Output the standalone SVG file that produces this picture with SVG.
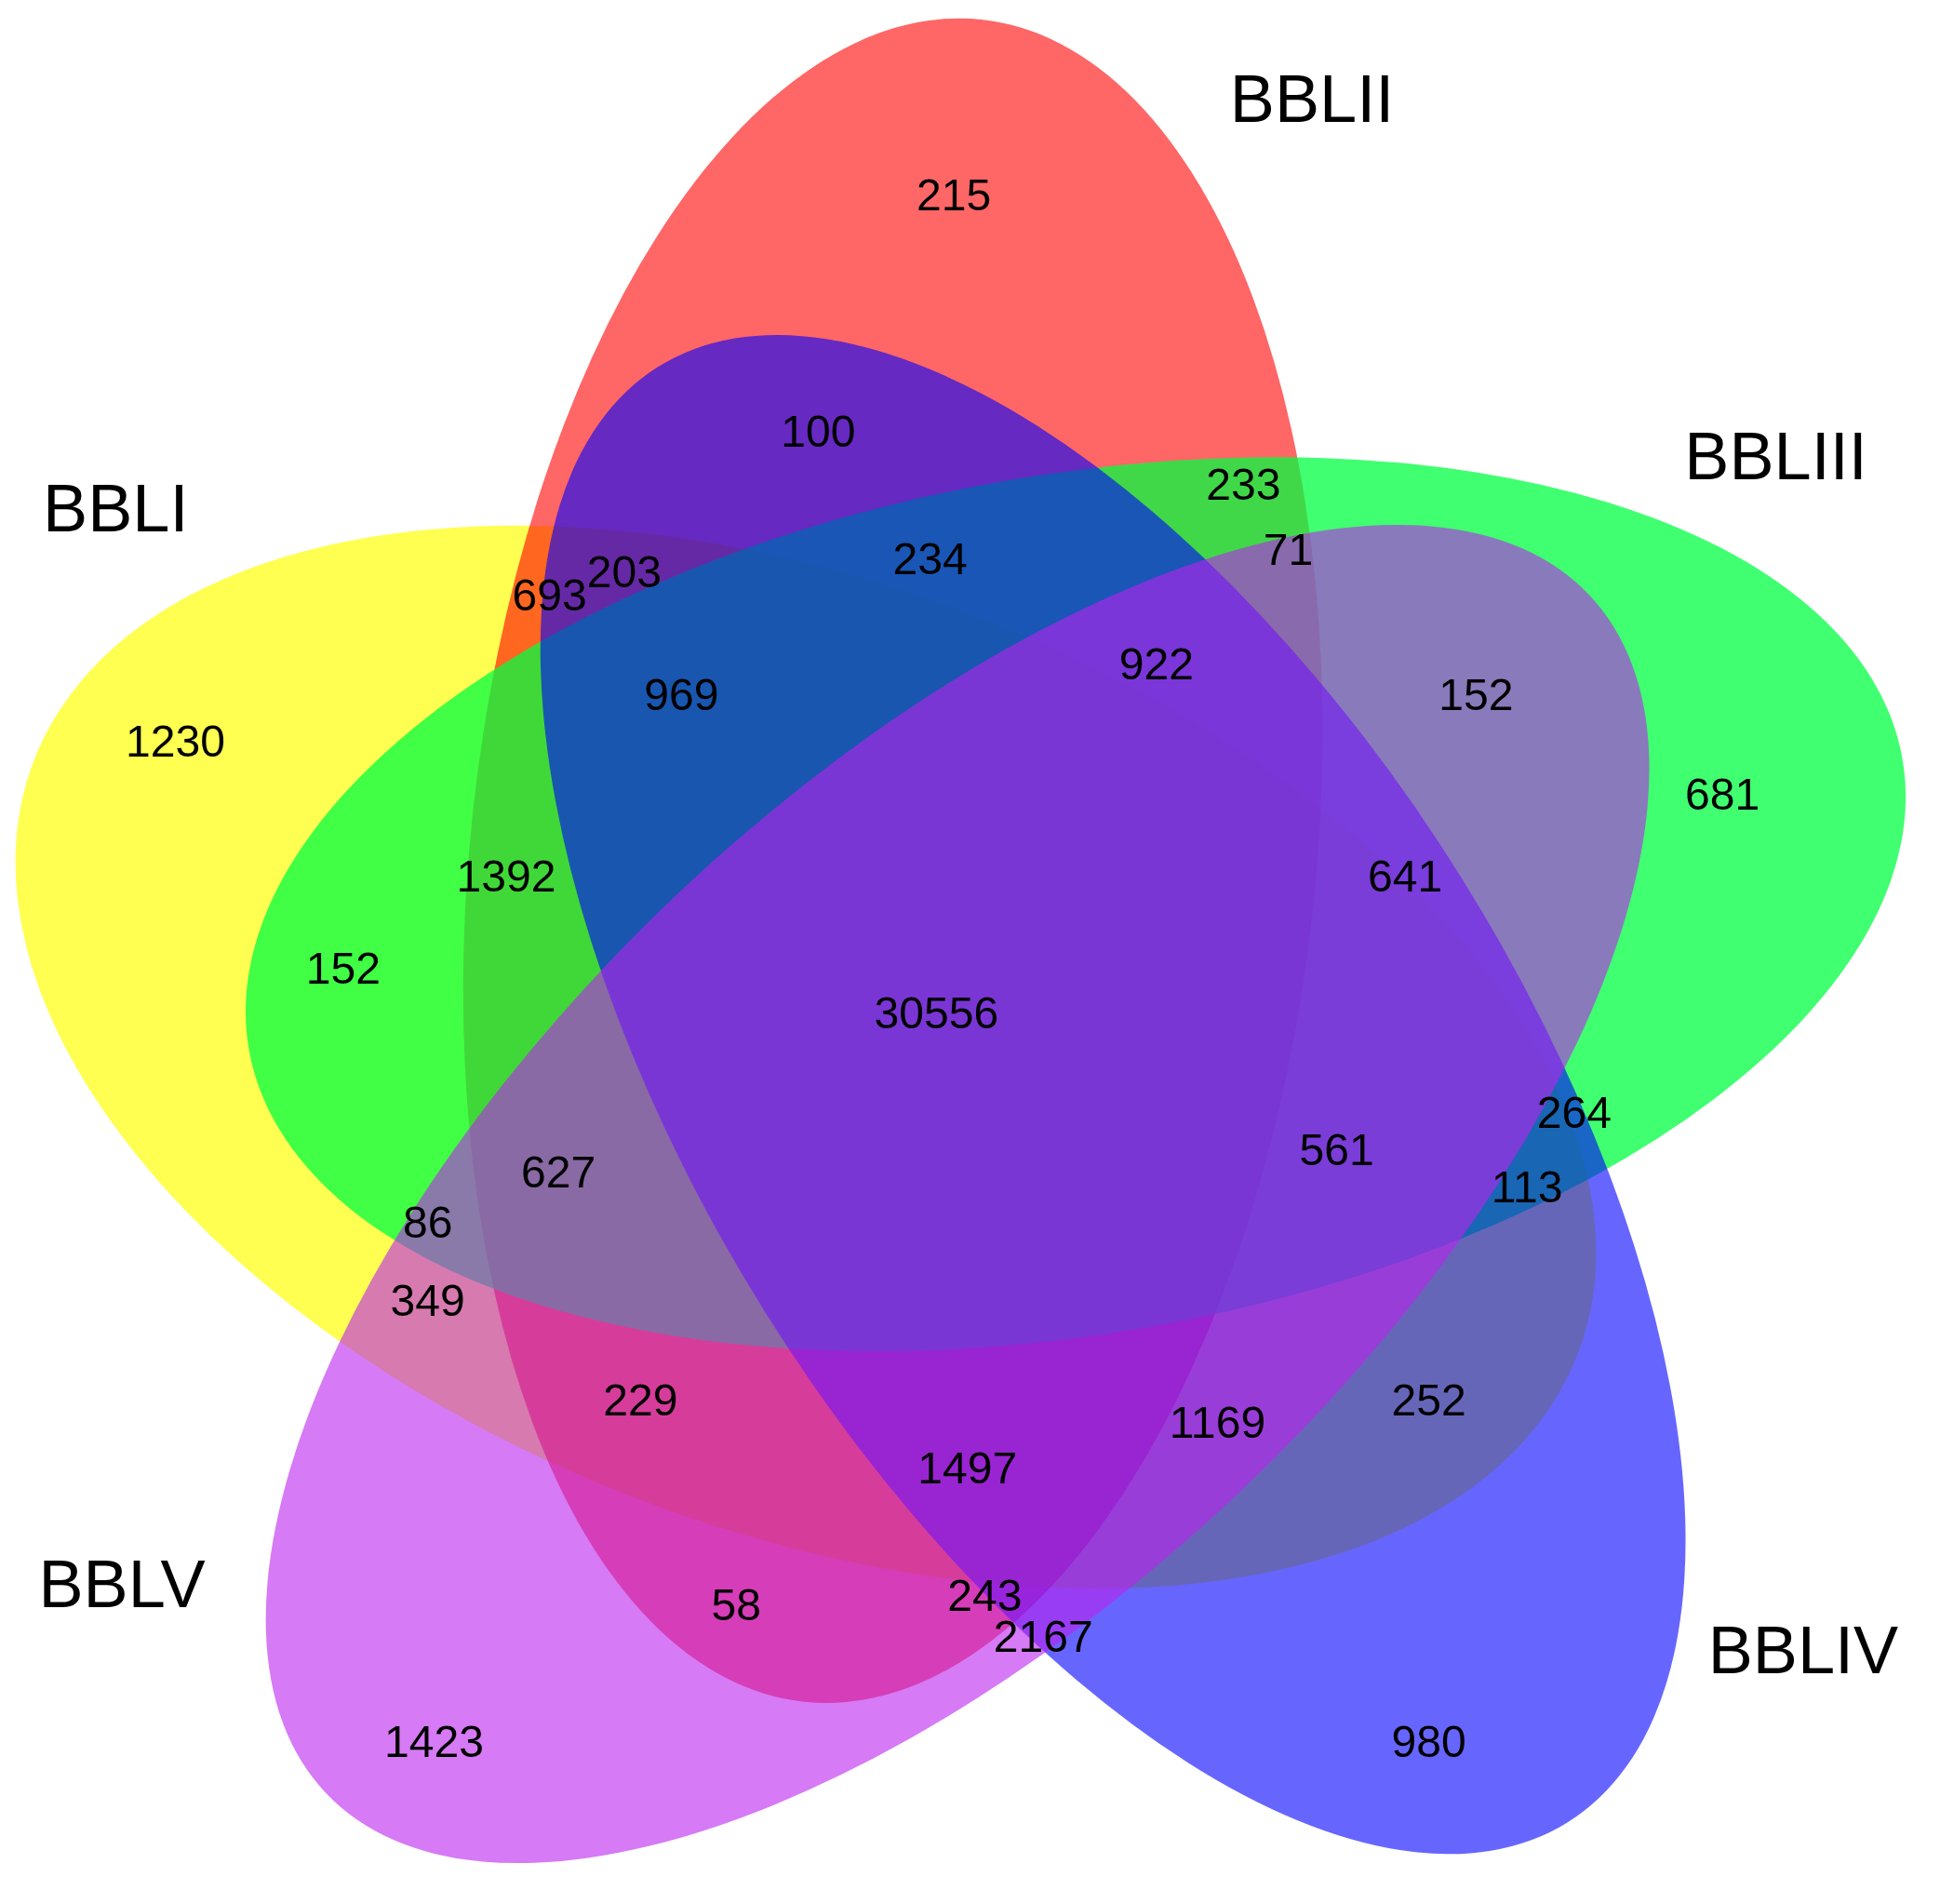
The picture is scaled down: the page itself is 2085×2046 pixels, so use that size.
<svg xmlns="http://www.w3.org/2000/svg" width="2085" height="2046" viewBox="0 0 2085 2046">
<style>
.n{font-family:"Liberation Sans",Arial,sans-serif;font-size:36px;fill:#000;text-anchor:middle}
.l{font-family:"Liberation Sans",Arial,sans-serif;font-size:54px;fill:#000;text-anchor:middle}
</style>
<rect width="2085" height="2046" fill="#fff"/>
<g transform="scale(1.3365)">
<g id="BBLI"><ellipse cx="648" cy="850" rx="665" ry="380" transform="rotate(21 648 850)" fill="#ffff00" fill-opacity="0.68"/></g>
<g id="BBLII"><ellipse cx="718" cy="692" rx="680" ry="340" transform="rotate(96 718 692)" fill="#ff0000" fill-opacity="0.6"/></g>
<g id="BBLIII"><ellipse cx="865" cy="727" rx="675" ry="345" transform="rotate(-10 865 727)" fill="#00ff40" fill-opacity="0.75"/></g>
<g id="BBLIV"><ellipse cx="895" cy="880" rx="690" ry="330" transform="rotate(58 895 880)" fill="#0000ff" fill-opacity="0.6"/></g>
<g id="BBLV"><ellipse cx="770" cy="960" rx="700" ry="330" transform="rotate(-43.5 770 960)" fill="#bb22ee" fill-opacity="0.6"/></g>
<g id="labels">
<text class="l" x="93" y="427">BBLI</text>
<text class="l" x="1055" y="98">BBLII</text>
<text class="l" x="1428" y="385">BBLIII</text>
<text class="l" x="1450" y="1345">BBLIV</text>
<text class="l" x="98" y="1292">BBLV</text>
</g>
<g id="counts">
<text class="n" x="767" y="169">215</text>
<text class="n" x="658" y="359">100</text>
<text class="n" x="1000" y="402">233</text>
<text class="n" x="1036" y="454">71</text>
<text class="n" x="748" y="462">234</text>
<text class="n" x="502" y="472">203</text>
<text class="n" x="442" y="491">693</text>
<text class="n" x="930" y="546">922</text>
<text class="n" x="548" y="571">969</text>
<text class="n" x="1187" y="571">152</text>
<text class="n" x="141" y="608">1230</text>
<text class="n" x="1385" y="651">681</text>
<text class="n" x="407" y="717">1392</text>
<text class="n" x="1130" y="717">641</text>
<text class="n" x="276" y="791">152</text>
<text class="n" x="753" y="827">30556</text>
<text class="n" x="1266" y="907">264</text>
<text class="n" x="1075" y="937">561</text>
<text class="n" x="449" y="955">627</text>
<text class="n" x="1228" y="967">113</text>
<text class="n" x="344" y="995">86</text>
<text class="n" x="344" y="1058">349</text>
<text class="n" x="515" y="1138">229</text>
<text class="n" x="1149" y="1138">252</text>
<text class="n" x="979" y="1156">1169</text>
<text class="n" x="778" y="1193">1497</text>
<text class="n" x="792" y="1295">243</text>
<text class="n" x="592" y="1303">58</text>
<text class="n" x="839" y="1328">2167</text>
<text class="n" x="349" y="1413">1423</text>
<text class="n" x="1149" y="1413">980</text>
</g>
</g>
</svg>
